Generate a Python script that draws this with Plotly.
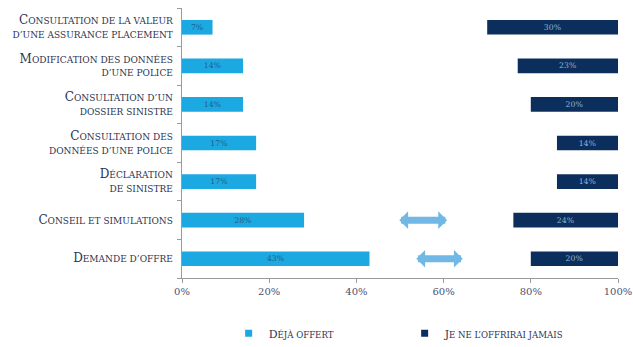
import plotly.graph_objects as go

# Services, top to bottom
categories = [
    "Consultation de la valeur<br>d’une assurance placement",
    "Modification des données<br>d’une police",
    "Consultation d’un<br>dossier sinistre",
    "Consultation des<br>données d’une police",
    "Déclaration<br>de sinistre",
    "Conseil et simulations",
    "Demande d’offre",
]
deja_offert = [7, 14, 14, 17, 17, 28, 43]          # % already offered
jamais = [30, 23, 20, 14, 14, 24, 20]              # % will never offer
series_names = ["Déjà offert", "Je ne l’offrirai jamais"]
x_ticks = [0, 20, 40, 60, 80, 100]
# double arrows (start %, end %) drawn on the two bottom rows
arrow_rows = ["Conseil et simulations", "Demande d’offre"]
arrow_spans = [(49.5, 60.8), (53.4, 64.4)]

CYAN = "#1ca8e0"
NAVY = "#0c2e5c"
LABEL = "#2c3452"
SERIF = "DejaVu Serif, Liberation Serif, serif"


def small_caps(text, big=12, small=9.0):
    """Render text as small caps: capitals at `big` px, the rest upper-cased at `small` px."""
    lines = []
    for line in text.split("<br>"):
        out, run, run_big = [], "", None
        for ch in line:
            is_big = ch.isupper()
            if run_big is not None and is_big != run_big:
                out.append((run, run_big))
                run = ""
            run += ch
            run_big = is_big
        if run:
            out.append((run, run_big))
        lines.append("".join(
            f'<span style="font-size:{big if b else small}px">{r.upper()}</span>'
            for r, b in out))
    return "<br>".join(lines)


fig = go.Figure()

fig.add_trace(go.Bar(
    y=categories, x=deja_offert, base=0, orientation="h",
    name=series_names[0], marker=dict(color=CYAN, line=dict(width=0)),
    width=0.38,
    text=[f"{v}%" for v in deja_offert], textposition="inside",
    insidetextanchor="middle", textangle=0,
    insidetextfont=dict(family=SERIF, size=9, color="#22608c"),
    showlegend=False, hoverinfo="skip",
))

fig.add_trace(go.Bar(
    y=categories, x=jamais, base=[100 - v for v in jamais], orientation="h",
    name=series_names[1], marker=dict(color=NAVY, line=dict(width=0)),
    width=0.38,
    text=[f"{v}%" for v in jamais], textposition="inside",
    insidetextanchor="middle", textangle=0,
    insidetextfont=dict(family=SERIF, size=9, color="#8db4da"),
    showlegend=False, hoverinfo="skip",
))

# legend entries with small square swatches
for nm, col in zip(series_names, [CYAN, NAVY]):
    fig.add_trace(go.Scatter(
        x=[None], y=[None], mode="markers", name=small_caps(nm, 11, 8.6),
        marker=dict(symbol="square", size=7, color=col),
    ))

for row, (x0, x1) in zip(arrow_rows, arrow_spans):
    fig.add_annotation(
        x=x1, y=row, ax=x0, ay=row, xref="x", yref="y", axref="x", ayref="y",
        showarrow=True, text="", arrowside="end+start",
        arrowhead=1, startarrowhead=1, arrowsize=0.42, startarrowsize=0.42,
        arrowwidth=7, arrowcolor="#63b1e3", opacity=0.9,
    )

fig.update_layout(
    width=633, height=347,
    margin=dict(l=182, r=15, t=8, b=69, autoexpand=False),
    paper_bgcolor="white", plot_bgcolor="white",
    barmode="overlay", bargap=0.6,
    font=dict(family=SERIF, color=LABEL),
    showlegend=True,
    legend=dict(
        orientation="h", x=0.107, xanchor="left", y=-0.205, yanchor="middle",
        font=dict(family=SERIF, size=11, color=LABEL),
        entrywidth=131, entrywidthmode="pixels",
        itemwidth=30, bgcolor="rgba(0,0,0,0)",
    ),
)

fig.update_xaxes(
    range=[0, 100], tickvals=x_ticks, ticktext=[f"{t}%" for t in x_ticks],
    showgrid=False, zeroline=False, automargin=False,
    showline=True, linecolor="#9a9a9a", linewidth=1,
    ticks="outside", ticklen=4, tickcolor="#9a9a9a",
    tickfont=dict(family=SERIF, size=10, color="#4a5370"),
)

fig.update_yaxes(
    categoryorder="array", categoryarray=categories,
    tickvals=categories, ticktext=[small_caps(c) for c in categories],
    range=[6.5, -0.5],
    showgrid=False, zeroline=False, automargin=False,
    showline=True, linecolor="#9a9a9a", linewidth=1,
    ticks="outside", ticklen=4, tickcolor="#9a9a9a", tickson="boundaries",
    ticklabelstandoff=6,
    tickfont=dict(family=SERIF, size=10.6, color=LABEL),
)

fig.write_html("out.html")
